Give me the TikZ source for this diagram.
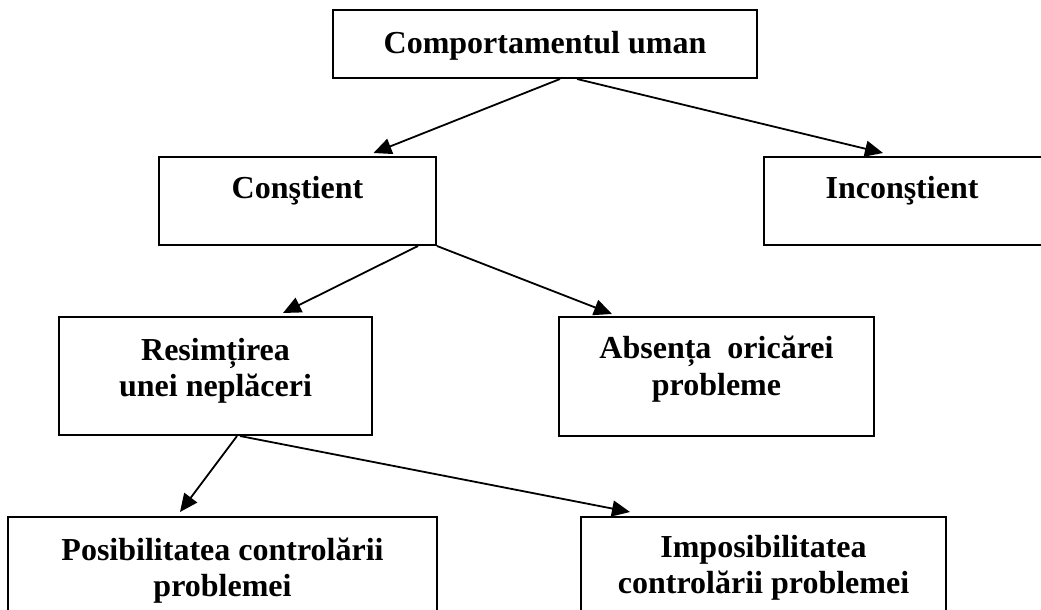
\documentclass[tikz,border=0pt]{standalone}
\usepackage{fontspec}
\setmainfont{Liberation Serif}
\usetikzlibrary{arrows.meta}
\begin{document}
\begin{tikzpicture}[x=1pt,y=-1pt,
  box/.style={draw=black, line width=2pt, rectangle, inner sep=0pt, fill=white},
  txt/.style={anchor=base, inner sep=0pt, font=\bfseries\fontsize{32}{36}\selectfont},
  conn/.style={line width=1.8pt, -{Triangle[length=18pt,width=16pt]}}]
\path[use as bounding box] (0,0) rectangle (1041,610);
\clip (0,0) rectangle (1041,610);
\fill[white] (0,0) rectangle (1041,610);
% boxes
\node[box, minimum width=424pt, minimum height=68pt] (b1) at (545,44) {};
\node[box, minimum width=277pt, minimum height=88pt] (b2) at (297.5,201) {};
\node[box, minimum width=296pt, minimum height=88pt] (b3) at (912,201) {};
\node[box, minimum width=313pt, minimum height=118pt] (b4) at (215.5,376) {};
\node[box, minimum width=315pt, minimum height=119pt] (b5) at (716.5,376.5) {};
\node[box, minimum width=429pt, minimum height=123pt] (b6) at (222.5,578.5) {};
\node[box, minimum width=365pt, minimum height=123pt] (b7) at (763.5,578.5) {};
% texts
\node[txt] (t1) at (545,53) {Comportamentul uman};
\node[txt] (t2) at (297.5,198) {Conştient};
\node[txt] (t3) at (902,198) {Inconştient};
\node[txt] (t4a) at (215.5,360) {Resimțirea};
\node[txt] (t4b) at (215.5,396) {unei neplăceri};
\node[txt] (t5a) at (716.5,358) {Absența\ \ oricărei};
\node[txt] (t5b) at (716.5,395) {probleme};
\node[txt] (t6a) at (222.5,560) {Posibilitatea controlării};
\node[txt] (t6b) at (222.5,596) {problemei};
\node[txt] (t7a) at (763.5,557) {Imposibilitatea};
\node[txt] (t7b) at (763.5,593) {controlării problemei};
% connectors
\draw[conn] ([xshift=15pt]b1.south) -- ([xshift=76pt,yshift=3pt]b2.north);
\draw[conn] ([xshift=32pt]b1.south) -- ([xshift=-29pt,yshift=3pt]b3.north);
\draw[conn] ([xshift=120.5pt]b2.south) -- ([xshift=67.5pt,yshift=3pt]b4.north);
\draw[conn] (b2.south east) -- ([xshift=-104.5pt,yshift=2pt]b5.north);
\draw[conn] ([xshift=21.5pt]b4.south) -- ([xshift=-42.5pt,yshift=4pt]b6.north);
\draw[conn] ([xshift=24.5pt]b4.south) -- ([xshift=-133.5pt,yshift=4pt]b7.north);
\end{tikzpicture}
\end{document}
